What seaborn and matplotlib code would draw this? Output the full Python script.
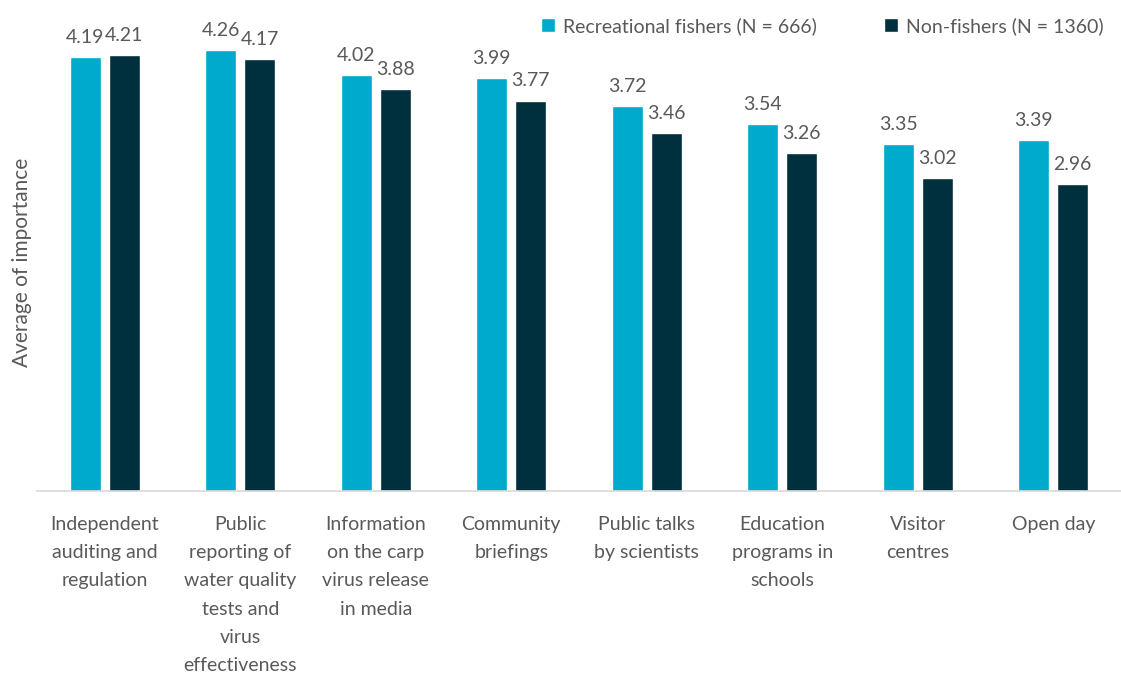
import matplotlib
matplotlib.use("Agg")
import matplotlib.pyplot as plt
import seaborn as sns
import pandas as pd

categories = [
    "Independent\nauditing and\nregulation",
    "Public\nreporting of\nwater quality\ntests and\nvirus\neffectiveness",
    "Information\non the carp\nvirus release\nin media",
    "Community\nbriefings",
    "Public talks\nby scientists",
    "Education\nprograms in\nschools",
    "Visitor\ncentres",
    "Open day",
]
fishers = [4.19, 4.26, 4.02, 3.99, 3.72, 3.54, 3.35, 3.39]
non_fishers = [4.21, 4.17, 3.88, 3.77, 3.46, 3.26, 3.02, 2.96]
series_names = ["Recreational fishers (N = 666)", "Non-fishers (N = 1360)"]
colors = ["#00AACD", "#002F3D"]

df = pd.DataFrame({
    "category": categories * 2,
    "value": fishers + non_fishers,
    "group": [series_names[0]] * len(categories) + [series_names[1]] * len(categories),
})

sns.set_theme(style="white")
plt.rcParams["font.family"] = ["Lato", "DejaVu Sans"]
text_color = "#595959"

fig = plt.figure(figsize=(11.21, 6.82), dpi=100)
ax = fig.add_axes([37 / 1121, 191 / 682, 1084 / 1121, 466 / 682])

sns.barplot(data=df, x="category", y="value", hue="group", palette=colors,
            width=0.575, gap=0.2, ax=ax, saturation=1, legend=True)

ax.set_ylim(0, 4.5)
ax.set_xlim(-0.5, len(categories) - 0.5)
ax.set_yticks([])
ax.set_xlabel("")
ax.set_ylabel("Average of importance", fontsize=15, color=text_color)
ax.yaxis.set_label_coords(-0.005, 0.49)
ax.tick_params(axis="x", length=0, pad=18, labelsize=14, labelcolor=text_color)
for lbl in ax.get_xticklabels():
    lbl.set_linespacing(1.8)
    lbl.set_verticalalignment("top")

for s in ["top", "right", "left"]:
    ax.spines[s].set_visible(False)
ax.spines["bottom"].set_color("#D9D9D9")
ax.spines["bottom"].set_linewidth(1.2)

for container in ax.containers:
    ax.bar_label(container, fmt="%.2f", padding=8, fontsize=14, color=text_color)

handles, labels = ax.get_legend_handles_labels()
ax.legend(handles, labels, loc="upper right", bbox_to_anchor=(1.0, 1.055),
          ncol=2, frameon=False, fontsize=14, labelcolor=text_color,
          handlelength=0.7, handleheight=0.7, handletextpad=0.4, columnspacing=3.5)

fig.savefig("out.png", dpi=100)
